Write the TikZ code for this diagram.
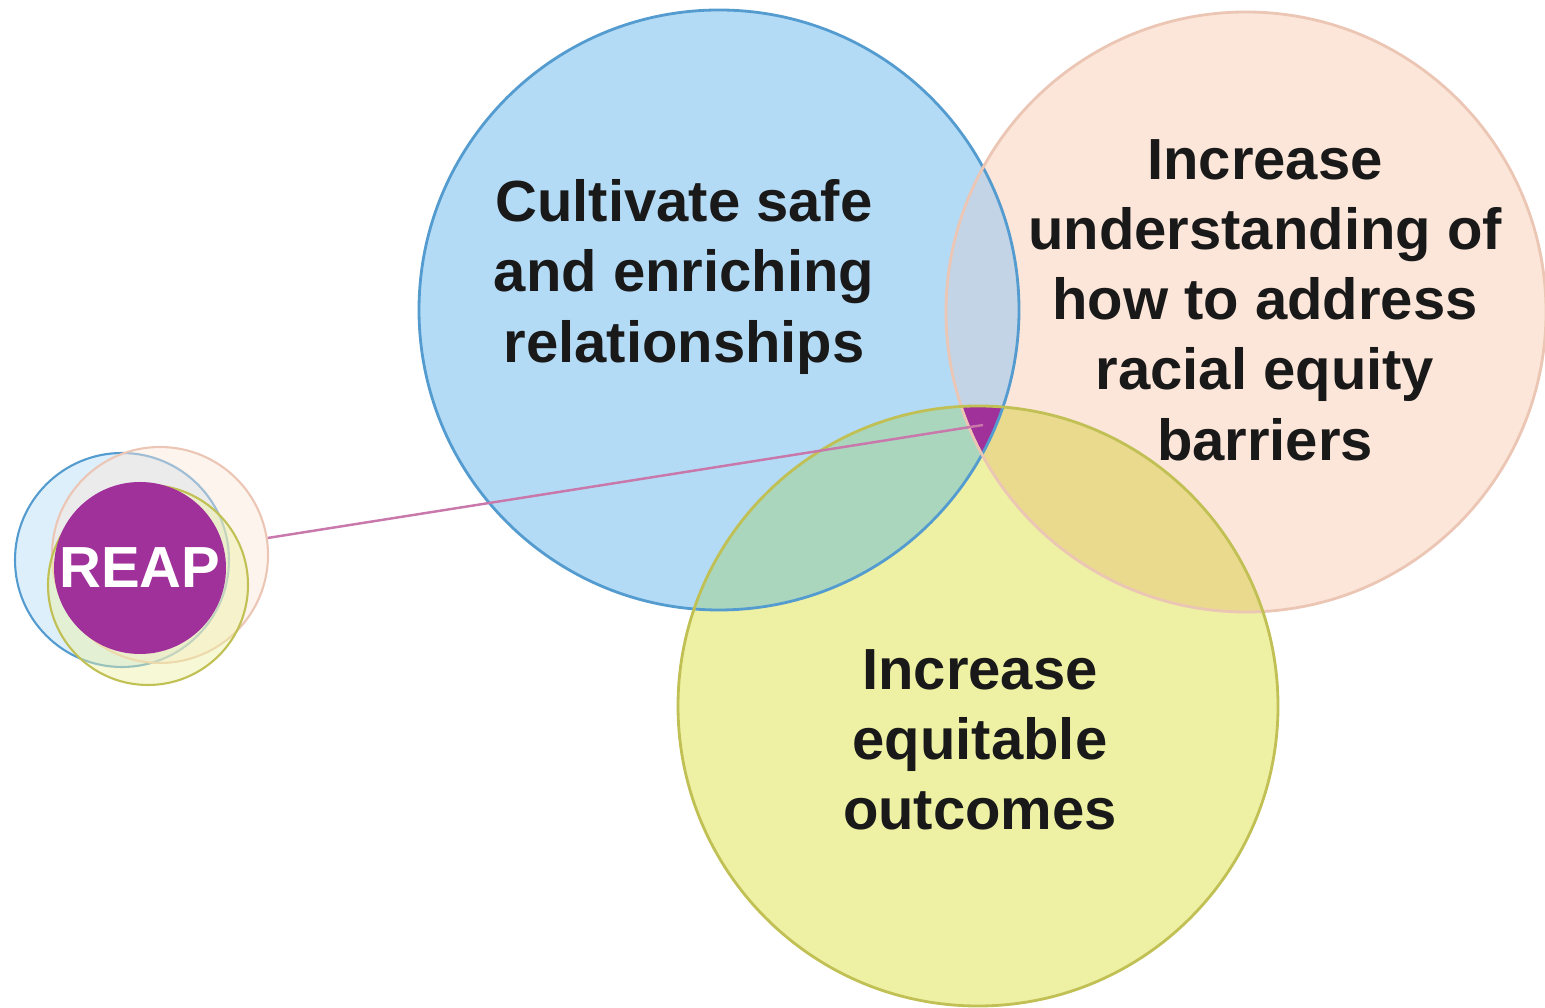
\documentclass[tikz,border=0pt]{standalone}
\usepackage{fontspec}
\setmainfont{Liberation Sans}

\definecolor{bluefill}{RGB}{180,219,246}
\definecolor{blueline}{RGB}{84,156,208}
\definecolor{peachfill}{RGB}{252,230,217}
\definecolor{peachline}{RGB}{236,198,180}
\definecolor{yellowfill}{RGB}{238,241,164}
\definecolor{yellowline}{RGB}{192,192,84}
\definecolor{bluepeach}{RGB}{194,212,230}
\definecolor{blueyellow}{RGB}{170,214,190}
\definecolor{peachyellow}{RGB}{234,218,142}
\definecolor{reapfill}{RGB}{160,48,154}
\definecolor{linkline}{RGB}{200,120,170}

\begin{document}
\begin{tikzpicture}
    [
        goal circle/.style={circle, draw, line width=0.8pt, inner sep=0pt, minimum size=6cm},
        mini circle/.style={circle, draw, line width=0.6pt, inner sep=0pt, fill opacity=0.45},
        goal text/.style={align=center, font=\fontsize{16.5}{20}\selectfont\bfseries, text=black!90}
    ]

    \useasboundingbox (0,0) rectangle (15.45,10.08);

    \fill [bluefill] (7.19, 6.98) circle (3cm);
    \fill [peachfill] (12.46, 6.96) circle (3cm);
    \fill [yellowfill] (9.78, 3.02) circle (3cm);

    % overlaps
    \begin{scope}
        \clip (12.46, 6.96) circle (3cm);
        \fill [peachyellow] (9.78, 3.02) circle (3cm);
    \end{scope}
    \begin{scope}
        \clip (7.19, 6.98) circle (3cm);
        \fill [bluepeach] (12.46, 6.96) circle (3cm);
        \fill [blueyellow] (9.78, 3.02) circle (3cm);
        \clip (12.46, 6.96) circle (3cm);
        \fill [reapfill] (9.78, 3.02) circle (3cm);
    \end{scope}

    \node [goal circle, draw=blueline] (safe) at (7.19, 6.98) {};
    \node [goal circle, draw=peachline] (barriers) at (12.46, 6.96) {};
    \node [goal circle, draw=yellowline] (outcomes) at (9.78, 3.02) {};

    \node [mini circle, minimum size=2.14cm, fill=bluefill, draw=blueline] (minisafe) at (1.22, 4.48) {};
    \node [mini circle, minimum size=2.16cm, fill=peachfill, draw=peachline] (minibarriers) at (1.60, 4.53) {};
    \node [mini circle, minimum size=2.00cm, fill=yellowfill, draw=yellowline] (minioutcomes) at (1.48, 4.23) {};

    \coordinate (core) at (9.83, 5.83);

    \node [circle, fill=reapfill, inner sep=0pt, minimum size=1.72cm] (reap) at (1.40, 4.40) {};
    \node [font=\fontsize{16.5}{20}\selectfont\bfseries, text=white] at (reap) {REAP};

    \draw [linkline, line width=0.7pt] (minibarriers) -- (core);

    \node [goal text] (safetext) at (6.84, 7.31) {Cultivate safe\\and enriching\\relationships};
    \node [goal text] (barrierstext) at (12.65, 7.08) {Increase\\understanding of\\how to address\\racial equity\\barriers};
    \node [goal text] (outcomestext) at (9.80, 2.68) {Increase\\equitable\\outcomes};
\end{tikzpicture}
\end{document}
